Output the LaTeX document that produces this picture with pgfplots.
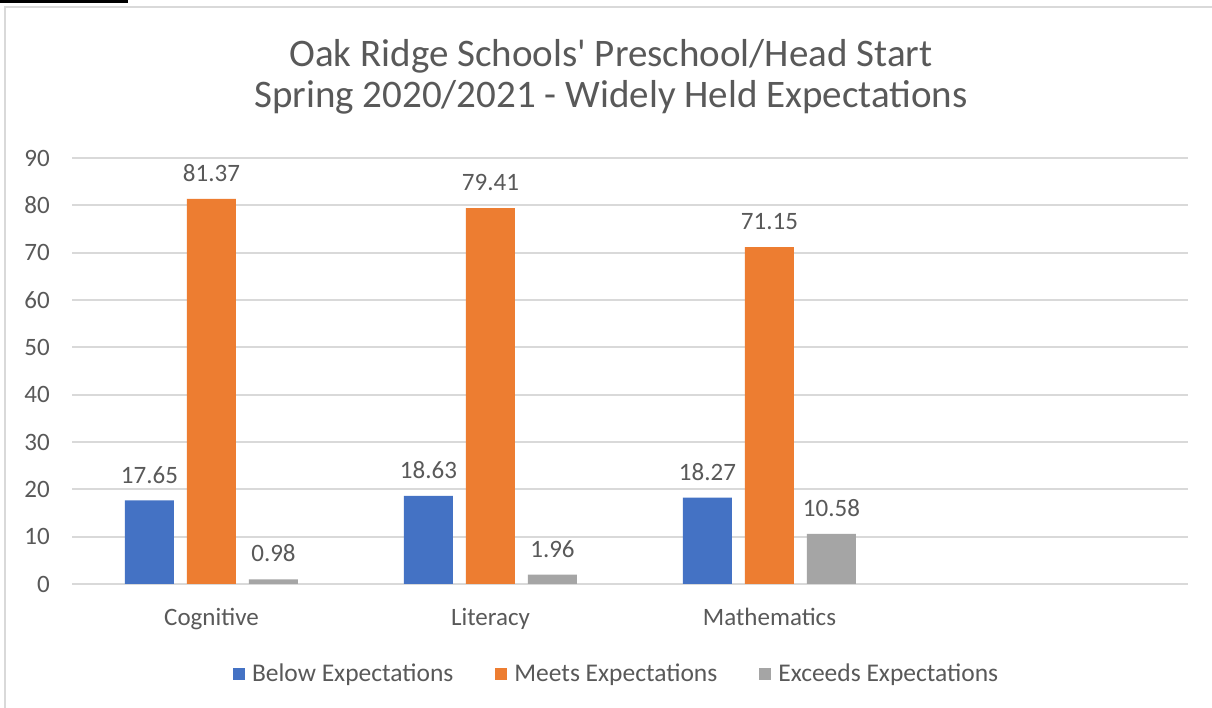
\documentclass[border=0pt]{standalone}
\usepackage{pgfplots}
\pgfplotsset{compat=1.18}
\usepackage{fontspec}
\setmainfont{Carlito}
\definecolor{cblue}{HTML}{4472C4}
\definecolor{corange}{HTML}{ED7D31}
\definecolor{cgray}{HTML}{A5A5A5}
\definecolor{txt}{HTML}{595959}
\definecolor{gridc}{HTML}{D9D9D9}
\begin{document}
\begin{tikzpicture}[x=1pt,y=1pt]
\path[use as bounding box] (0,0) rectangle (1212,708);
\fill[white] (0,0) rectangle (1212,708);
\fill[black] (0,705) rectangle (128,708);
\draw[gridc, line width=2pt] (5,-2) -- (5,701) -- (1214,701);
\node[font=\fontsize{39}{42}\selectfont, text=txt, anchor=base] at (611,641) {Oak Ridge Schools\textquotesingle\ Preschool/Head Start};
\node[font=\fontsize{39}{42}\selectfont, text=txt, anchor=base] at (611,600) {Spring 2020/2021 - Widely Held Expectations};
\begin{axis}[
  at={(72pt,124pt)}, anchor=south west,
  scale only axis, width=1116pt, height=426pt,
  xmin=-0.5, xmax=3.5, ymin=0, ymax=90,
  ytick={0,10,...,90},
  xtick={0,1,2},
  xticklabels={Cognitive,Literacy,Mathematics},
  axis line style={draw=none},
  major tick style={draw=none},
  ymajorgrids=true, xmajorgrids=false,
  y grid style={gridc, line width=2pt},
  /pgf/number format/assume math mode=true,
  tick label style={font=\fontsize{25}{30}\selectfont, text=txt},
  yticklabel style={anchor=east, inner sep=0pt, xshift=-22pt},
  xticklabel style={anchor=north, inner sep=0pt, yshift=-20pt},
  ybar=13pt, bar width=49pt,
  nodes near coords,
  nodes near coords style={font=\fontsize{25}{30}\selectfont, text=txt, anchor=south, inner sep=0pt, yshift=17pt, /pgf/number format/.cd, fixed, fixed zerofill, precision=2, assume math mode=true},
  legend columns=3,
  legend style={at={(0.488,-0.211)}, anchor=center, draw=none, fill=none,
    font=\fontsize{25.5}{30}\selectfont, text=txt,
    /tikz/every even column/.append style={column sep=40pt}},
  legend image code/.code={\fill[#1] (0pt,-6pt) rectangle (12pt,6pt); \path (17pt,0pt);},
]
\addplot[fill=cblue, draw=none] coordinates {(0,17.65) (1,18.63) (2,18.27)};
\addplot[fill=corange, draw=none] coordinates {(0,81.37) (1,79.41) (2,71.15)};
\addplot[fill=cgray, draw=none] coordinates {(0,0.98) (1,1.96) (2,10.58)};
\legend{Below Expectations, Meets Expectations, Exceeds Expectations}
\end{axis}
\end{tikzpicture}
\end{document}
